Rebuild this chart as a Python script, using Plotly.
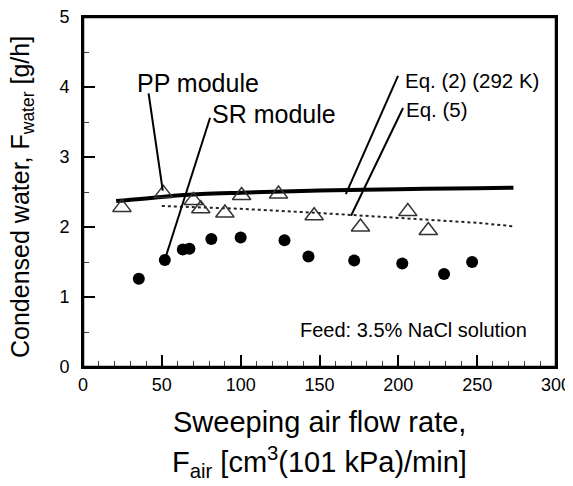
import plotly.graph_objects as go

# PP module (open triangles)
pp_x = [24.7, 51, 70, 74.7, 90, 100.6, 124, 146.6, 176, 206, 219]
pp_y = [2.28, 2.48, 2.38, 2.26, 2.20, 2.45, 2.47, 2.16, 2.00, 2.22, 1.95]

# SR module (filled circles)
sr_x = [35.4, 51.9, 63.3, 67.5, 81.4, 100, 127.8, 143, 172, 202.5, 229, 246.8]
sr_y = [1.26, 1.53, 1.68, 1.69, 1.83, 1.85, 1.81, 1.58, 1.52, 1.48, 1.33, 1.50]

# Eq. (2) (292 K) - solid curve
eq2_x = [21, 50, 75, 100, 150, 200, 250, 273]
eq2_y = [2.37, 2.43, 2.47, 2.49, 2.52, 2.54, 2.555, 2.56]

# Eq. (5) - dotted curve
eq5_x = [50, 100, 150, 200, 250, 273]
eq5_y = [2.30, 2.26, 2.20, 2.13, 2.06, 2.01]

# Labels and their leader lines (start at label, end at curve/point)
labels = ["PP module", "SR module", "Eq. (2) (292 K)", "Eq. (5)"]
label_x = [33, 80.6, 203, 203.6]
label_y = [4.06, 3.61, 4.09, 3.68]
label_size = [25, 25, 20.5, 20.5]
leader_x0 = [41.6, 80.6, 199.8, 203]
leader_y0 = [3.91, 3.56, 4.16, 3.70]
leader_x1 = [50.6, 52.7, 166.7, 170]
leader_y1 = [2.52, 1.59, 2.47, 2.16]

feed_text = "Feed: 3.5% NaCl solution"

x_ticks = [0, 50, 100, 150, 200, 250, 300]
y_ticks = [0, 1, 2, 3, 4, 5]

FONT = "Liberation Sans, Arial, sans-serif"

fig = go.Figure()

fig.add_trace(go.Scatter(x=eq2_x, y=eq2_y, mode="lines",
                         line=dict(color="black", width=4, shape="spline"),
                         hoverinfo="skip"))
fig.add_trace(go.Scatter(x=eq5_x, y=eq5_y, mode="lines",
                         line=dict(color="#222", width=2, dash="dot"),
                         hoverinfo="skip"))
fig.add_trace(go.Scatter(x=pp_x, y=pp_y, mode="markers",
                         marker=dict(symbol="triangle-up-open", size=16,
                                     color="#333", line=dict(width=1.5, color="#333"))))
fig.add_trace(go.Scatter(x=sr_x, y=sr_y, mode="markers",
                         marker=dict(symbol="circle", size=12, color="black")))

for i in range(len(labels)):
    fig.add_trace(go.Scatter(x=[leader_x0[i], leader_x1[i]],
                             y=[leader_y0[i], leader_y1[i]],
                             mode="lines", line=dict(color="black", width=2),
                             hoverinfo="skip"))
    fig.add_annotation(x=label_x[i], y=label_y[i], xref="x", yref="y",
                       text=labels[i], showarrow=False, xanchor="left",
                       yanchor="middle",
                       font=dict(family=FONT, size=label_size[i], color="black"))

fig.add_annotation(x=136.5, y=0.53, xref="x", yref="y", text=feed_text,
                   showarrow=False, xanchor="left", yanchor="middle",
                   font=dict(family=FONT, size=20, color="black"))

# Axis titles
fig.add_annotation(x=0.5, y=0, xref="paper", yref="paper",
                   text="Sweeping air flow rate,", showarrow=False,
                   xanchor="center", yanchor="middle", yshift=-55,
                   font=dict(family=FONT, size=29, color="black"))
fig.add_annotation(x=0.5, y=0, xref="paper", yref="paper",
                   text="F<sub>air</sub> [cm<sup>3</sup>(101 kPa)/min]", showarrow=False,
                   xanchor="center", yanchor="middle", yshift=-95,
                   font=dict(family=FONT, size=29, color="black"))
fig.add_annotation(x=0, y=0.5, xref="paper", yref="paper",
                   text="Condensed water, F<sub>water</sub> [g/h]", showarrow=False,
                   xanchor="center", yanchor="middle", xshift=-61, yshift=-5,
                   textangle=-90,
                   font=dict(family=FONT, size=25, color="black"))

# plot frame
fig.add_shape(type="rect", xref="paper", yref="paper", x0=0, y0=0, x1=1, y1=1,
              line=dict(color="black", width=2.5), layer="above")

fig.update_xaxes(range=[0, 300], tickvals=x_ticks, ticks="inside", ticklen=12,
                 tickwidth=1.5, tickcolor="black", showline=True, linewidth=2,
                 linecolor="black", mirror=True, showgrid=False, zeroline=False,
                 automargin=False, ticklabeloverflow="allow",
                 tickfont=dict(family=FONT, size=18, color="black"),
                 minor=dict(dtick=10, ticks="inside", ticklen=6, tickwidth=1,
                            tickcolor="#444", showgrid=False))
fig.update_yaxes(range=[0, 5], tickvals=y_ticks, ticks="inside", ticklen=12,
                 tickwidth=1.5, tickcolor="black", showline=True, linewidth=2,
                 linecolor="black", mirror=True, showgrid=False, zeroline=False,
                 automargin=False, ticklabelstandoff=8, ticklabeloverflow="allow",
                 tickfont=dict(family=FONT, size=18, color="black"),
                 minor=dict(dtick=0.5, ticks="inside", ticklen=6, tickwidth=1,
                            tickcolor="#444", showgrid=False))

# page body has an 8px default margin; the figure fits the window exactly
fig.update_layout(width=557, height=470, showlegend=False,
                  plot_bgcolor="white", paper_bgcolor="white",
                  margin=dict(l=75, r=9, t=9, b=111))

fig.write_html("out.html")
